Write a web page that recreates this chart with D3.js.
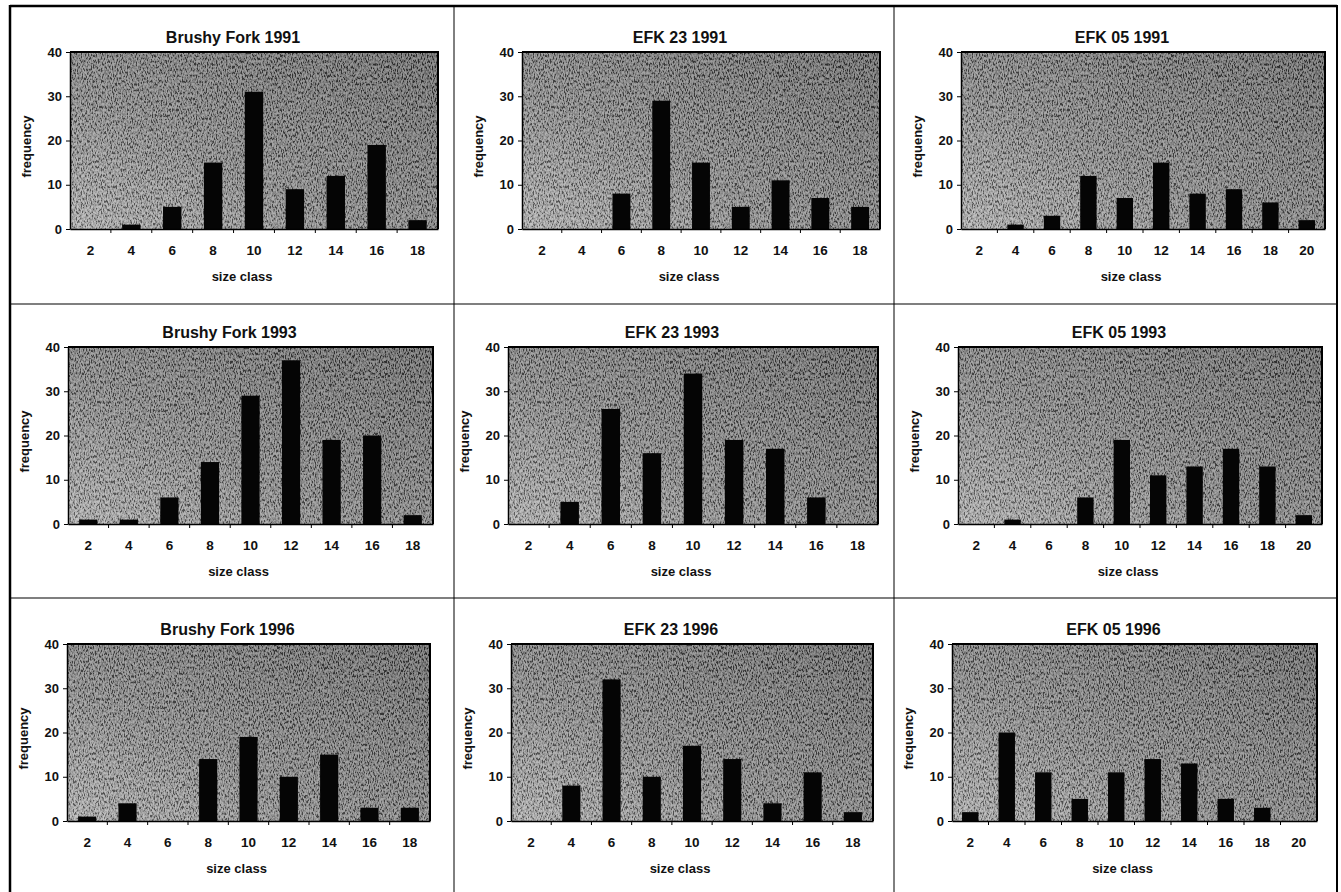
<!DOCTYPE html>
<html>
<head>
<meta charset="utf-8">
<script src="https://cdn.jsdelivr.net/npm/d3@7"></script>
<style>
  body { margin: 0; background: #fff; }
  svg { display: block; }
  text { font-family: "Liberation Sans", Arial, sans-serif; font-weight: bold; fill: #111; }
</style>
</head>
<body>
<svg id="chart" width="1341" height="892"></svg>
<script>
// size classes on the x axis
var classes9 = ["2", "4", "6", "8", "10", "12", "14", "16", "18"];
var classes10 = ["2", "4", "6", "8", "10", "12", "14", "16", "18", "20"];
var yTicks = [0, 10, 20, 30, 40];

var titles = [
  "Brushy Fork 1991", "EFK 23 1991", "EFK 05 1991",
  "Brushy Fork 1993", "EFK 23 1993", "EFK 05 1993",
  "Brushy Fork 1996", "EFK 23 1996", "EFK 05 1996"
];

// frequencies
var brushy1991 = [0, 1, 5, 15, 31, 9, 12, 19, 2];
var efk23_1991 = [0, 0, 8, 29, 15, 5, 11, 7, 5];
var efk05_1991 = [0, 1, 3, 12, 7, 15, 8, 9, 6, 2];
var brushy1993 = [1, 1, 6, 14, 29, 37, 19, 20, 2];
var efk23_1993 = [0, 5, 26, 16, 34, 19, 17, 6, 0];
var efk05_1993 = [0, 1, 0, 6, 19, 11, 13, 17, 13, 2];
var brushy1996 = [1, 4, 0, 14, 19, 10, 15, 3, 3];
var efk23_1996 = [0, 8, 32, 10, 17, 14, 4, 11, 2];
var efk05_1996 = [2, 20, 11, 5, 11, 14, 13, 5, 3, 0];

var series = [brushy1991, efk23_1991, efk05_1991,
              brushy1993, efk23_1993, efk05_1993,
              brushy1996, efk23_1996, efk05_1996];

// layout of the 3x3 grid (plot rectangles per row / column)
var plotX = [[70, 522, 961], [68, 508, 958], [67, 511, 952]];
var plotW = [[368, 358, 364], [365, 370, 364], [363, 362, 365]];
var plotY = [52, 347, 644];
var plotH = 177;
var colLines = [454, 894];
var rowLines = [304, 598];

var svg = d3.select("#chart");
var defs = svg.append("defs");

// speckled grey backdrop like the scanned Excel plot area
var grad = defs.append("linearGradient")
    .attr("id", "shade")
    .attr("x1", "0").attr("y1", "1").attr("x2", "1").attr("y2", "0");
grad.append("stop").attr("offset", "0%").attr("stop-color", "#a0a0a0");
grad.append("stop").attr("offset", "40%").attr("stop-color", "#707070");
grad.append("stop").attr("offset", "100%").attr("stop-color", "#474747");

var grain = defs.append("filter")
    .attr("id", "grain")
    .attr("x", 0).attr("y", 0).attr("width", 1).attr("height", 1);
grain.append("feTurbulence")
    .attr("type", "fractalNoise")
    .attr("baseFrequency", "0.8 0.35")
    .attr("numOctaves", 2)
    .attr("seed", 7);
grain.append("feColorMatrix")
    .attr("type", "matrix")
    .attr("values", "1 0 0 0 0  1 0 0 0 0  1 0 0 0 0  0 0 0 0 1");
grain.append("feComponentTransfer")
  .call(function(f) {
    ["feFuncR", "feFuncG", "feFuncB"].forEach(function(n) {
      f.append(n).attr("type", "linear").attr("slope", 3.2).attr("intercept", -1.1);
    });
  });

// frame of the figure
svg.append("g")
    .attr("stroke", "#000")
    .call(function(g) {
      g.append("line").attr("x1", 10).attr("x2", 1337).attr("y1", 6).attr("y2", 6).attr("stroke-width", 2.5);
      g.append("line").attr("x1", 10).attr("x2", 10).attr("y1", 5).attr("y2", 892).attr("stroke-width", 2.5);
      g.append("line").attr("x1", 1337).attr("x2", 1337).attr("y1", 5).attr("y2", 892).attr("stroke-width", 2);
      colLines.forEach(function(x) {
        g.append("line").attr("x1", x).attr("x2", x).attr("y1", 6).attr("y2", 892).attr("stroke-width", 1);
      });
      rowLines.forEach(function(y) {
        g.append("line").attr("x1", 10).attr("x2", 1337).attr("y1", y).attr("y2", y).attr("stroke-width", 1.2);
      });
    });

series.forEach(function(values, i) {
  var row = Math.floor(i / 3), col = i % 3;
  var w = plotW[row][col];
  var cats = values.length === 10 ? classes10 : classes9;

  var x = d3.scaleBand()
      .domain(cats)
      .range([0, w])
      .paddingInner(0.55)
      .paddingOuter(0.275);

  var y = d3.scaleLinear()
      .domain([0, 40])
      .range([plotH, 0]);

  var g = svg.append("g")
      .attr("transform", "translate(" + plotX[row][col] + "," + plotY[row] + ")");

  g.append("rect")
      .attr("width", w).attr("height", plotH)
      .attr("fill", "url(#shade)");
  g.append("rect")
      .attr("width", w).attr("height", plotH)
      .attr("fill", "#888")
      .attr("filter", "url(#grain)")
      .attr("opacity", 0.4);

  // plot area frame (top and right edges are drawn dark)
  g.append("path")
      .attr("d", "M0,0H" + w + "V" + plotH)
      .attr("fill", "none")
      .attr("stroke", "#000")
      .attr("stroke-width", 2);

  g.selectAll(".bar")
      .data(values)
      .enter().append("rect")
      .attr("class", "bar")
      .attr("x", function(d, j) { return x(cats[j]); })
      .attr("width", x.bandwidth())
      .attr("y", function(d) { return y(d); })
      .attr("height", function(d) { return plotH - y(d); })
      .attr("fill", "#050505");

  var yAxis = g.append("g")
      .call(d3.axisLeft(y).tickValues(yTicks).tickSize(4).tickPadding(4).tickSizeOuter(0));
  yAxis.selectAll("text")
      .style("font-family", "'Liberation Sans', Arial, sans-serif")
      .style("font-weight", "bold")
      .style("font-size", "13px")
      .attr("fill", "#111");
  yAxis.select(".domain").attr("stroke-width", 1.5);

  var xAxis = g.append("g")
      .attr("transform", "translate(0," + plotH + ")")
      .call(d3.axisBottom(x).tickSize(0).tickPadding(16).tickSizeOuter(0));
  xAxis.selectAll("text")
      .style("font-family", "'Liberation Sans', Arial, sans-serif")
      .style("font-weight", "bold")
      .style("font-size", "13.5px")
      .attr("fill", "#111");
  xAxis.select(".domain").attr("stroke-width", 1.5);

  // Excel style tick marks between categories
  var gap = (x.step() - x.bandwidth()) / 2;
  xAxis.selectAll(".between")
      .data(cats.slice(1))
      .enter().append("line")
      .attr("class", "between")
      .attr("x1", function(c) { return x(c) - gap; })
      .attr("x2", function(c) { return x(c) - gap; })
      .attr("y1", 0).attr("y2", 4)
      .attr("stroke", "#000");

  g.append("text")
      .attr("x", w / 2 - 21)
      .attr("y", -9)
      .attr("text-anchor", "middle")
      .style("font-size", "16px")
      .text(titles[i]);

  g.append("text")
      .attr("x", w / 2 - 12)
      .attr("y", plotH + 52)
      .attr("text-anchor", "middle")
      .style("font-size", "13px")
      .text("size class");

  g.append("text")
      .attr("transform", "translate(-39," + (plotH / 2 + 6) + ") rotate(-90)")
      .attr("text-anchor", "middle")
      .style("font-size", "13px")
      .text("frequency");
});
</script>
</body>
</html>
